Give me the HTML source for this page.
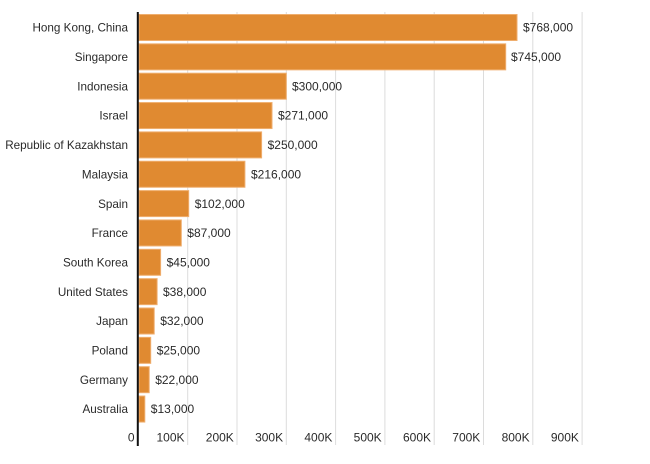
<!DOCTYPE html>
<html><head><meta charset="utf-8"><style>
html,body{margin:0;padding:0;background:#fff;}
svg{display:block;}
text{font-family:"Liberation Sans",sans-serif;font-size:12px;fill:#2a2a2a;}
.cl text{font-size:11.7px;}
</style></head><body>
<svg width="650" height="464" viewBox="0 0 650 464" xmlns="http://www.w3.org/2000/svg">
<g stroke="#dcdcdc" stroke-width="1">
<line x1="187.7" y1="12" x2="187.7" y2="445"/>
<line x1="237" y1="12" x2="237" y2="445"/>
<line x1="286.3" y1="12" x2="286.3" y2="445"/>
<line x1="335.6" y1="12" x2="335.6" y2="445"/>
<line x1="384.9" y1="12" x2="384.9" y2="445"/>
<line x1="434.2" y1="12" x2="434.2" y2="445"/>
<line x1="483.5" y1="12" x2="483.5" y2="445"/>
<line x1="532.8" y1="12" x2="532.8" y2="445"/>
<line x1="582.1" y1="12" x2="582.1" y2="445"/>
</g>
<g fill="#E08A31" stroke="#EFAE6E" stroke-width="1">
<rect x="139" y="14.5" width="378" height="26"/>
<rect x="139" y="43.85" width="366.7" height="26"/>
<rect x="139" y="73.2" width="147.3" height="26"/>
<rect x="139" y="102.55" width="133" height="26"/>
<rect x="139" y="131.9" width="122.6" height="26"/>
<rect x="139" y="161.25" width="105.9" height="26"/>
<rect x="139" y="190.6" width="49.7" height="26"/>
<rect x="139" y="219.95" width="42.3" height="26"/>
<rect x="139" y="249.3" width="21.6" height="26"/>
<rect x="139" y="278.65" width="18.1" height="26"/>
<rect x="139" y="308" width="15.2" height="26"/>
<rect x="139" y="337.35" width="11.7" height="26"/>
<rect x="139" y="366.7" width="10.2" height="26"/>
<rect x="139" y="396.05" width="5.8" height="26"/>
</g>
<line x1="137.8" y1="12" x2="137.8" y2="446" stroke="#111" stroke-width="2"/>
<g text-anchor="end" class="cl">
<text x="128" y="31.7">Hong Kong, China</text>
<text x="128" y="61">Singapore</text>
<text x="128" y="90.4">Indonesia</text>
<text x="128" y="119.7">Israel</text>
<text x="128" y="149.1">Republic of Kazakhstan</text>
<text x="128" y="178.4">Malaysia</text>
<text x="128" y="207.8">Spain</text>
<text x="128" y="237.1">France</text>
<text x="128" y="266.5">South Korea</text>
<text x="128" y="295.8">United States</text>
<text x="128" y="325.2">Japan</text>
<text x="128" y="354.5">Poland</text>
<text x="128" y="383.9">Germany</text>
<text x="128" y="413.2">Australia</text>
</g>
<g>
<text x="523" y="31.7">$768,000</text>
<text x="511" y="61">$745,000</text>
<text x="292" y="90.4">$300,000</text>
<text x="278" y="119.7">$271,000</text>
<text x="267.6" y="149.1">$250,000</text>
<text x="251" y="178.4">$216,000</text>
<text x="194.7" y="207.8">$102,000</text>
<text x="187.3" y="237.1">$87,000</text>
<text x="166.6" y="266.5">$45,000</text>
<text x="163" y="295.8">$38,000</text>
<text x="160.2" y="325.2">$32,000</text>
<text x="156.7" y="354.5">$25,000</text>
<text x="155.2" y="383.9">$22,000</text>
<text x="150.8" y="413.2">$13,000</text>
</g>
<g text-anchor="end">
<text x="134.5" y="441.5">0</text>
<text x="184.5" y="441.5">100K</text>
<text x="233.8" y="441.5">200K</text>
<text x="283.1" y="441.5">300K</text>
<text x="332.4" y="441.5">400K</text>
<text x="381.7" y="441.5">500K</text>
<text x="431" y="441.5">600K</text>
<text x="480.3" y="441.5">700K</text>
<text x="529.6" y="441.5">800K</text>
<text x="578.9" y="441.5">900K</text>
</g>
</svg>
</body></html>
